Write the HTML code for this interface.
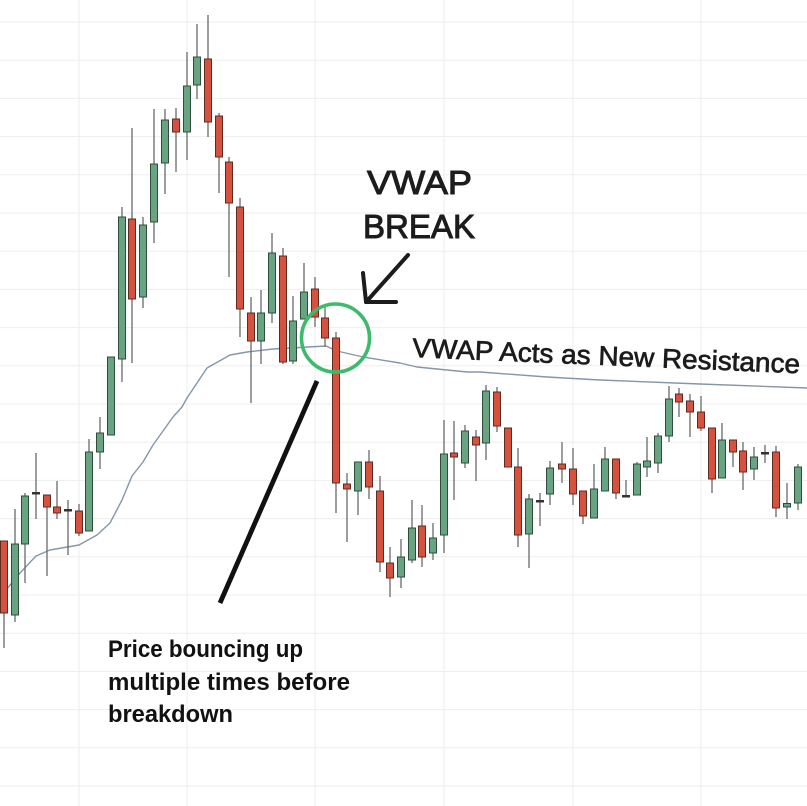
<!DOCTYPE html>
<html>
<head>
<meta charset="utf-8">
<style>
html,body{margin:0;padding:0;background:#fff;}
svg{display:block;}
.gl{stroke:#ededed;stroke-width:1;}
.w{stroke:#6a6a6a;stroke-width:1.3;}
.g{fill:#68a482;stroke:#2f4d3b;stroke-width:1;}
.r{fill:#d6513e;stroke:#5e2b22;stroke-width:1;}
.d{fill:#333;}
</style>
</head>
<body>
<svg width="807" height="806" viewBox="0 0 807 806" xmlns="http://www.w3.org/2000/svg">
<rect width="807" height="806" fill="#fff"/>
<!-- grid -->
<g class="gl">
<line x1="0" y1="22" x2="807" y2="22"/>
<line x1="0" y1="60.2" x2="807" y2="60.2"/>
<line x1="0" y1="98.4" x2="807" y2="98.4"/>
<line x1="0" y1="136.6" x2="807" y2="136.6"/>
<line x1="0" y1="174.8" x2="807" y2="174.8"/>
<line x1="0" y1="213" x2="807" y2="213"/>
<line x1="0" y1="251.2" x2="807" y2="251.2"/>
<line x1="0" y1="289.4" x2="807" y2="289.4"/>
<line x1="0" y1="327.6" x2="807" y2="327.6"/>
<line x1="0" y1="365.8" x2="807" y2="365.8"/>
<line x1="0" y1="404" x2="807" y2="404"/>
<line x1="0" y1="442.2" x2="807" y2="442.2"/>
<line x1="0" y1="480.4" x2="807" y2="480.4"/>
<line x1="0" y1="518.6" x2="807" y2="518.6"/>
<line x1="0" y1="556.8" x2="807" y2="556.8"/>
<line x1="0" y1="595" x2="807" y2="595"/>
<line x1="0" y1="633.2" x2="807" y2="633.2"/>
<line x1="0" y1="671.4" x2="807" y2="671.4"/>
<line x1="0" y1="709.6" x2="807" y2="709.6"/>
<line x1="0" y1="747.8" x2="807" y2="747.8"/>
<line x1="0" y1="786" x2="807" y2="786"/>
<line x1="79" y1="0" x2="79" y2="806"/>
<line x1="187" y1="0" x2="187" y2="806"/>
<line x1="315" y1="0" x2="315" y2="806"/>
<line x1="444" y1="0" x2="444" y2="806"/>
<line x1="573" y1="0" x2="573" y2="806"/>
<line x1="701" y1="0" x2="701" y2="806"/>
</g>

<!-- VWAP line -->
<polyline fill="none" stroke="#8596a8" stroke-width="1.4" stroke-linejoin="round"
points="6,590 20,573 36,556 50,550 79,545 97,535 110,523 122,500 132,476 143,462 153,445 173,417 182,407 187,398 207,368 230,355 247,352 273,349 326,346 337,351 363,357 400,363 417,367 467,372 480,372 547,377 600,380 700,384 807,388"/>

<!-- candles -->
<g>
<line class="w" x1="4" y1="541" x2="4" y2="648"/><rect class="r" x="0.5" y="541" width="7" height="72"/>
<line class="w" x1="15" y1="509" x2="15" y2="622"/><rect class="g" x="11.5" y="544" width="7" height="71"/>
<line class="w" x1="25" y1="493" x2="25" y2="583"/><rect class="g" x="21.5" y="496" width="7" height="48"/>
<line class="w" x1="36" y1="453" x2="36" y2="519"/><rect class="d" x="32" y="492" width="8" height="2.5"/>
<line class="w" x1="47" y1="495" x2="47" y2="576"/><rect class="r" x="43.5" y="495" width="7" height="12"/>
<line class="w" x1="57" y1="481" x2="57" y2="519"/><rect class="r" x="53.5" y="507" width="7" height="6"/>
<line class="w" x1="68" y1="500" x2="68" y2="555"/><rect class="d" x="64" y="509" width="8" height="2.5"/>
<line class="w" x1="79" y1="504" x2="79" y2="536"/><rect class="r" x="75.5" y="511" width="7" height="22"/>
<line class="w" x1="89" y1="439" x2="89" y2="531"/><rect class="g" x="85.5" y="452" width="7" height="79"/>
<line class="w" x1="100" y1="417" x2="100" y2="469"/><rect class="g" x="96.5" y="433" width="7" height="19"/>
<line class="w" x1="111" y1="357" x2="111" y2="435"/><rect class="g" x="107.5" y="357" width="7" height="78"/>
<line class="w" x1="122" y1="207" x2="122" y2="382"/><rect class="g" x="118.5" y="217" width="7" height="142"/>
<line class="w" x1="132" y1="128" x2="132" y2="363"/><rect class="r" x="128.5" y="219" width="7" height="80"/>
<line class="w" x1="143" y1="217" x2="143" y2="308"/><rect class="g" x="139.5" y="225" width="7" height="72"/>
<line class="w" x1="154" y1="109" x2="154" y2="243"/><rect class="g" x="150.5" y="164" width="7" height="58"/>
<line class="w" x1="165" y1="109" x2="165" y2="194"/><rect class="g" x="161.5" y="120" width="7" height="43"/>
<line class="w" x1="176" y1="108" x2="176" y2="172"/><rect class="r" x="172.5" y="119" width="7" height="13"/>
<line class="w" x1="187" y1="52" x2="187" y2="160"/><rect class="g" x="183.5" y="86" width="7" height="46"/>
<line class="w" x1="197" y1="24" x2="197" y2="99"/><rect class="g" x="193.5" y="57" width="7" height="28"/>
<line class="w" x1="208" y1="15" x2="208" y2="137"/><rect class="r" x="204.5" y="59" width="7" height="63"/>
<line class="w" x1="219" y1="113" x2="219" y2="193"/><rect class="r" x="215.5" y="116" width="7" height="41"/>
<line class="w" x1="229" y1="157" x2="229" y2="277"/><rect class="r" x="225.5" y="162" width="7" height="41"/>
<line class="w" x1="240" y1="198" x2="240" y2="337"/><rect class="r" x="236.5" y="207" width="7" height="102"/>
<line class="w" x1="251" y1="297" x2="251" y2="403"/><rect class="r" x="247.5" y="313" width="7" height="28"/>
<line class="w" x1="261" y1="290" x2="261" y2="364"/><rect class="g" x="257.5" y="313" width="7" height="28"/>
<line class="w" x1="272" y1="233" x2="272" y2="323"/><rect class="g" x="268.5" y="253" width="7" height="60"/>
<line class="w" x1="283" y1="248" x2="283" y2="364"/><rect class="r" x="279.5" y="256" width="7" height="106"/>
<line class="w" x1="293" y1="296" x2="293" y2="364"/><rect class="g" x="289.5" y="321" width="7" height="40"/>
<line class="w" x1="304" y1="263" x2="304" y2="319"/><rect class="g" x="300.5" y="292" width="7" height="27"/>
<line class="w" x1="315" y1="277" x2="315" y2="327"/><rect class="r" x="311.5" y="289" width="7" height="28"/>
<line class="w" x1="325" y1="307" x2="325" y2="347"/><rect class="r" x="321.5" y="318" width="7" height="20"/>
<line class="w" x1="336" y1="332" x2="336" y2="513"/><rect class="r" x="332.5" y="338" width="7" height="145"/>
<line class="w" x1="347" y1="473" x2="347" y2="542"/><rect class="r" x="343.5" y="484" width="7" height="5"/>
<line class="w" x1="358" y1="462" x2="358" y2="515"/><rect class="g" x="354.5" y="462" width="7" height="29"/>
<line class="w" x1="369" y1="450" x2="369" y2="499"/><rect class="r" x="365.5" y="462" width="7" height="25"/>
<line class="w" x1="380" y1="476" x2="380" y2="572"/><rect class="r" x="376.5" y="491" width="7" height="71"/>
<line class="w" x1="390" y1="547" x2="390" y2="597"/><rect class="r" x="386.5" y="563" width="7" height="15"/>
<line class="w" x1="401" y1="539" x2="401" y2="588"/><rect class="g" x="397.5" y="557" width="7" height="20"/>
<line class="w" x1="412" y1="500" x2="412" y2="563"/><rect class="g" x="408.5" y="528" width="7" height="32"/>
<line class="w" x1="422" y1="505" x2="422" y2="567"/><rect class="r" x="418.5" y="526" width="7" height="31"/>
<line class="w" x1="433" y1="523" x2="433" y2="560"/><rect class="g" x="429.5" y="538" width="7" height="15"/>
<line class="w" x1="444" y1="420" x2="444" y2="553"/><rect class="g" x="440.5" y="454" width="7" height="81"/>
<line class="w" x1="454" y1="421" x2="454" y2="500"/><rect class="r" x="450.5" y="453" width="7" height="4"/>
<line class="w" x1="465" y1="425" x2="465" y2="468"/><rect class="g" x="461.5" y="431" width="7" height="32"/>
<line class="w" x1="476" y1="430" x2="476" y2="481"/><rect class="r" x="472.5" y="437" width="7" height="8"/>
<line class="w" x1="486" y1="385" x2="486" y2="460"/><rect class="g" x="482.5" y="391" width="7" height="52"/>
<line class="w" x1="497" y1="387" x2="497" y2="432"/><rect class="r" x="493.5" y="392" width="7" height="34"/>
<line class="w" x1="508" y1="428" x2="508" y2="467"/><rect class="r" x="504.5" y="428" width="7" height="39"/>
<line class="w" x1="518" y1="448" x2="518" y2="547"/><rect class="r" x="514.5" y="467" width="7" height="68"/>
<line class="w" x1="529" y1="494" x2="529" y2="568"/><rect class="g" x="525.5" y="499" width="7" height="35"/>
<line class="w" x1="540" y1="493" x2="540" y2="526"/><rect class="d" x="536" y="500" width="8" height="2.5"/>
<line class="w" x1="550" y1="461" x2="550" y2="505"/><rect class="g" x="546.5" y="468" width="7" height="26"/>
<line class="w" x1="562" y1="442" x2="562" y2="483"/><rect class="r" x="558.5" y="464" width="7" height="5"/>
<line class="w" x1="573" y1="448" x2="573" y2="505"/><rect class="r" x="569.5" y="469" width="7" height="25"/>
<line class="w" x1="583" y1="491" x2="583" y2="524"/><rect class="r" x="579.5" y="491" width="7" height="25"/>
<line class="w" x1="594" y1="464" x2="594" y2="518"/><rect class="g" x="590.5" y="489" width="7" height="29"/>
<line class="w" x1="605" y1="447" x2="605" y2="491"/><rect class="g" x="601.5" y="459" width="7" height="32"/>
<line class="w" x1="616" y1="459" x2="616" y2="499"/><rect class="r" x="612.5" y="459" width="7" height="34"/>
<line class="w" x1="626" y1="480" x2="626" y2="496"/><rect class="d" x="622" y="495" width="8" height="2.5"/>
<line class="w" x1="637" y1="462" x2="637" y2="495"/><rect class="g" x="633.5" y="464" width="7" height="31"/>
<line class="w" x1="647" y1="437" x2="647" y2="477"/><rect class="g" x="643.5" y="461" width="7" height="6"/>
<line class="w" x1="658" y1="433" x2="658" y2="473"/><rect class="g" x="654.5" y="436" width="7" height="27"/>
<line class="w" x1="669" y1="386" x2="669" y2="442"/><rect class="g" x="665.5" y="399" width="7" height="37"/>
<line class="w" x1="679" y1="388" x2="679" y2="417"/><rect class="r" x="675.5" y="394" width="7" height="8"/>
<line class="w" x1="690" y1="394" x2="690" y2="437"/><rect class="r" x="686.5" y="401" width="7" height="11"/>
<line class="w" x1="701" y1="396" x2="701" y2="431"/><rect class="r" x="697.5" y="412" width="7" height="16"/>
<line class="w" x1="712" y1="428" x2="712" y2="493"/><rect class="r" x="708.5" y="428" width="7" height="51"/>
<line class="w" x1="722" y1="423" x2="722" y2="478"/><rect class="g" x="718.5" y="440" width="7" height="38"/>
<line class="w" x1="733" y1="440" x2="733" y2="467"/><rect class="r" x="729.5" y="440" width="7" height="12"/>
<line class="w" x1="743" y1="442" x2="743" y2="490"/><rect class="r" x="739.5" y="451" width="7" height="21"/>
<line class="w" x1="754" y1="447" x2="754" y2="480"/><rect class="g" x="750.5" y="457" width="7" height="12"/>
<line class="w" x1="765" y1="445" x2="765" y2="463"/><rect class="d" x="761" y="452" width="8" height="2.5"/>
<line class="w" x1="776" y1="446" x2="776" y2="517"/><rect class="r" x="772.5" y="452" width="7" height="56"/>
<line class="w" x1="787" y1="483" x2="787" y2="519"/><rect class="g" x="783.5" y="503.5" width="7" height="3.5"/>
<line class="w" x1="798" y1="464" x2="798" y2="510"/><rect class="g" x="794.5" y="467" width="7" height="36"/>
</g>

<!-- green circle -->
<circle cx="335.5" cy="338" r="34" fill="none" stroke="#3dba6c" stroke-width="3.6"/>

<!-- arrow -->
<g stroke="#1c1c1c" stroke-width="4" stroke-linecap="round" fill="none">
<line x1="408" y1="255" x2="367" y2="301"/>
<line x1="366" y1="302" x2="363" y2="273"/>
<line x1="366" y1="302" x2="396" y2="302"/>
</g>

<!-- black pointer line -->
<line x1="220" y1="603" x2="317" y2="381" stroke="#111" stroke-width="4.8" stroke-linecap="butt"/>

<!-- texts -->
<g font-family="'Liberation Sans', sans-serif" fill="#1c1c1c">
<text x="367" y="194" font-size="33" stroke="#1c1c1c" stroke-width="1.0" textLength="105" lengthAdjust="spacingAndGlyphs">VWAP</text>
<text x="363" y="238" font-size="33" stroke="#1c1c1c" stroke-width="1.0" textLength="112" lengthAdjust="spacingAndGlyphs">BREAK</text>
<text x="412" y="357" font-size="27" stroke="#1c1c1c" stroke-width="0.7" transform="rotate(2.4 412 357)" textLength="388" lengthAdjust="spacingAndGlyphs">VWAP Acts as New Resistance</text>
</g>
<g font-family="'Liberation Sans', sans-serif" font-weight="bold" font-size="24" fill="#111">
<text x="108" y="657" textLength="195" lengthAdjust="spacingAndGlyphs">Price bouncing up</text>
<text x="108" y="690" textLength="242" lengthAdjust="spacingAndGlyphs">multiple times before</text>
<text x="108" y="722" textLength="125" lengthAdjust="spacingAndGlyphs">breakdown</text>
</g>
</svg>
</body>
</html>
